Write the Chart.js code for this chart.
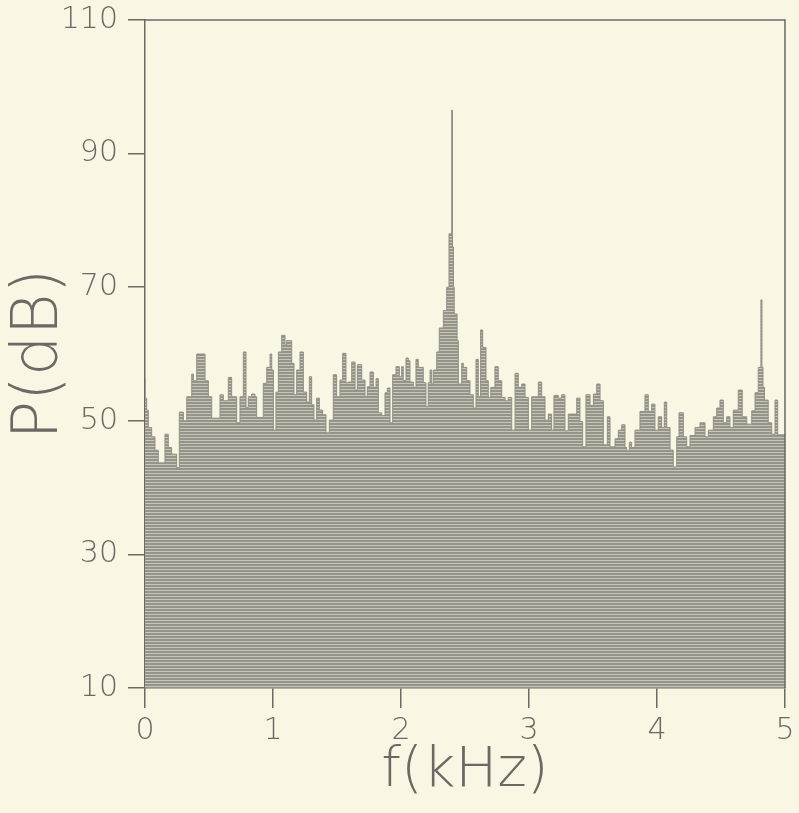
<!DOCTYPE html>
<html>
<head>
<meta charset="utf-8">
<script src="https://cdn.jsdelivr.net/npm/chart.js@4/dist/chart.umd.min.js"></script>
<style>
  html, body { margin: 0; padding: 0; background: #faf6e4; }
  canvas { display: block; }
</style>
</head>
<body>
<canvas id="spectrum" width="799" height="813"></canvas>
<script>
// spectrum, left edge of each step (kHz) and level (dB)
const freqs = [
  0.000, 0.013, 0.026, 0.052, 0.078, 0.104, 0.156, 0.182, 0.208, 0.247,
  0.268, 0.300, 0.326, 0.365, 0.378, 0.404, 0.469, 0.495, 0.521, 0.586,
  0.612, 0.651, 0.677, 0.716, 0.742, 0.768, 0.789, 0.807, 0.833, 0.859,
  0.872, 0.924, 0.951, 0.977, 0.990, 1.003, 1.023, 1.042, 1.068, 1.094,
  1.107, 1.146, 1.164, 1.185, 1.211, 1.237, 1.263, 1.284, 1.302, 1.320,
  1.341, 1.362, 1.388, 1.414, 1.440, 1.471, 1.497, 1.523, 1.544, 1.570,
  1.589, 1.615, 1.641, 1.659, 1.693, 1.719, 1.737, 1.758, 1.784, 1.805,
  1.823, 1.849, 1.875, 1.893, 1.914, 1.935, 1.961, 1.987, 2.005, 2.018,
  2.039, 2.057, 2.070, 2.096, 2.117, 2.135, 2.174, 2.195, 2.213, 2.227,
  2.240, 2.253, 2.279, 2.299, 2.331, 2.357, 2.375, 2.396, 2.402, 2.410,
  2.416, 2.438, 2.448, 2.474, 2.487, 2.513, 2.539, 2.565, 2.586, 2.604,
  2.622, 2.638, 2.664, 2.682, 2.701, 2.734, 2.760, 2.787, 2.813, 2.838,
  2.865, 2.891, 2.916, 2.943, 2.969, 2.995, 3.021, 3.073, 3.099, 3.125,
  3.151, 3.177, 3.195, 3.229, 3.255, 3.281, 3.307, 3.373, 3.398, 3.419,
  3.445, 3.477, 3.503, 3.529, 3.555, 3.581, 3.612, 3.633, 3.672, 3.698,
  3.724, 3.750, 3.763, 3.784, 3.802, 3.828, 3.867, 3.906, 3.932, 3.958,
  3.984, 4.010, 4.036, 4.057, 4.076, 4.102, 4.127, 4.154, 4.172, 4.206,
  4.232, 4.258, 4.297, 4.336, 4.375, 4.401, 4.440, 4.466, 4.492, 4.518,
  4.544, 4.570, 4.596, 4.635, 4.666, 4.701, 4.740, 4.766, 4.791, 4.812,
  4.820, 4.828, 4.840, 4.869, 4.896, 4.922, 4.943, 4.969, 5.000
];
const levels = [
  56.4, 53.4, 51.6, 49.0, 47.6, 45.6, 43.7, 48.0, 46.0, 45.0,
  43.0, 51.3, 50.0, 53.6, 57.0, 56.0, 60.0, 56.0, 53.6, 50.4,
  53.9, 53.0, 56.5, 53.6, 49.7, 53.6, 60.3, 52.0, 53.6, 54.0,
  53.6, 50.5, 55.6, 58.0, 60.0, 57.6, 48.6, 54.3, 60.3, 62.8,
  61.3, 62.0, 58.6, 53.9, 57.6, 60.3, 54.3, 52.8, 56.6, 52.4,
  50.1, 53.4, 51.6, 50.9, 48.2, 50.1, 56.9, 53.6, 56.1, 60.1,
  55.7, 55.8, 58.8, 54.6, 58.4, 56.1, 53.6, 55.1, 57.3, 55.0,
  56.3, 51.2, 50.8, 54.2, 54.9, 49.7, 56.9, 58.1, 56.6, 58.1,
  56.0, 59.4, 59.0, 55.8, 55.0, 59.2, 58.0, 55.7, 52.1, 55.7,
  57.6, 55.5, 57.6, 60.3, 63.9, 66.5, 70.0, 78.0, 96.5, 76.0,
  70.0, 66.0, 62.0, 55.5, 58.6, 58.0, 56.0, 53.9, 51.9, 59.2,
  53.6, 63.6, 61.0, 56.0, 53.5, 55.0, 58.1, 56.0, 53.5, 53.0,
  53.5, 48.6, 57.1, 55.0, 55.5, 53.5, 48.6, 53.6, 55.8, 53.6,
  50.1, 51.0, 48.6, 53.8, 53.4, 53.9, 48.5, 51.0, 53.4, 49.9,
  46.1, 53.9, 52.3, 54.0, 55.5, 53.0, 46.4, 50.6, 46.1, 47.3,
  48.6, 49.4, 46.0, 45.5, 46.8, 46.0, 48.6, 51.4, 53.9, 51.4,
  52.5, 48.6, 50.6, 49.0, 52.8, 49.0, 45.6, 43.1, 47.6, 51.2,
  47.6, 46.1, 47.8, 49.0, 49.7, 47.6, 48.6, 50.6, 51.9, 53.1,
  49.7, 50.6, 49.0, 51.6, 54.6, 50.6, 49.5, 51.5, 54.2, 58.0,
  68.1, 58.0, 55.0, 53.1, 49.7, 48.0, 53.1, 47.9, 47.9
];
const xTicks = [0, 1, 2, 3, 4, 5];
const yTicks = [10, 30, 50, 70, 90, 110];

const ink = "#6a6964";
const canvas = document.getElementById("spectrum");
const ctx = canvas.getContext("2d");

// horizontal hatching like the plotter fill
const pc = document.createElement("canvas");
pc.width = 4;
pc.height = 3;
const pctx = pc.getContext("2d");
pctx.fillStyle = "#96948a";
pctx.fillRect(0, 0, 4, 2);
pctx.fillStyle = "#c8c5b7";
pctx.fillRect(0, 2, 4, 1);
const stripes = ctx.createPattern(pc, "repeat");

const framePlugin = {
  id: "frame",
  afterDraw(chart) {
    const a = chart.chartArea;
    const c = chart.ctx;
    c.save();
    c.strokeStyle = ink;
    c.lineWidth = 1.5;
    c.beginPath();
    c.moveTo(a.left, a.top);
    c.lineTo(a.right, a.top);
    c.lineTo(a.right, a.bottom);
    c.stroke();
    c.restore();
  },
};

const tickFont = { family: "DejaVu Sans", size: 30, weight: "200", lineHeight: 1 };

new Chart(ctx, {
  type: "line",
  data: {
    datasets: [
      {
        data: freqs.map((f, i) => ({ x: f, y: levels[i] })),
        stepped: "after",
        fill: "start",
        backgroundColor: stripes,
        borderColor: "#918f85",
        borderWidth: 1,
        pointRadius: 0,
      },
    ],
  },
  options: {
    responsive: false,
    animation: false,
    layout: { padding: { top: 20, right: 14 } },
    plugins: { legend: { display: false }, tooltip: { enabled: false } },
    scales: {
      x: {
        type: "linear",
        min: 0,
        max: 5,
        afterBuildTicks: (s) => { s.ticks = xTicks.map((v) => ({ value: v })); },
        afterFit: (s) => { s.height = 125; s.paddingLeft = 0; s.paddingRight = 0; },
        ticks: {
          color: ink,
          padding: 8,
          maxRotation: 0,
          autoSkip: false,
          font: tickFont,
        },
        grid: { drawOnChartArea: false, tickLength: 20, color: ink, lineWidth: 1.5 },
        border: { display: true, color: ink, width: 1.5 },
        title: {
          display: true,
          text: "f(kHz)",
          color: ink,
          padding: { top: 0, bottom: 8 },
          font: { family: "DejaVu Sans", size: 56, weight: "200" },
        },
      },
      y: {
        min: 10,
        max: 110,
        afterBuildTicks: (s) => { s.ticks = yTicks.map((v) => ({ value: v })); },
        afterFit: (s) => { s.width = 145; s.paddingTop = 0; s.paddingBottom = 0; },
        ticks: {
          color: ink,
          padding: 10,
          autoSkip: false,
          font: tickFont,
        },
        grid: { drawOnChartArea: false, tickLength: 17, color: ink, lineWidth: 1.5 },
        border: { display: true, color: ink, width: 1.5 },
        title: {
          display: true,
          text: "P(dB)",
          color: ink,
          padding: { top: 2, bottom: 0 },
          font: { family: "DejaVu Sans", size: 64, weight: "200" },
        },
      },
    },
  },
  plugins: [framePlugin],
});
</script>
</body>
</html>
